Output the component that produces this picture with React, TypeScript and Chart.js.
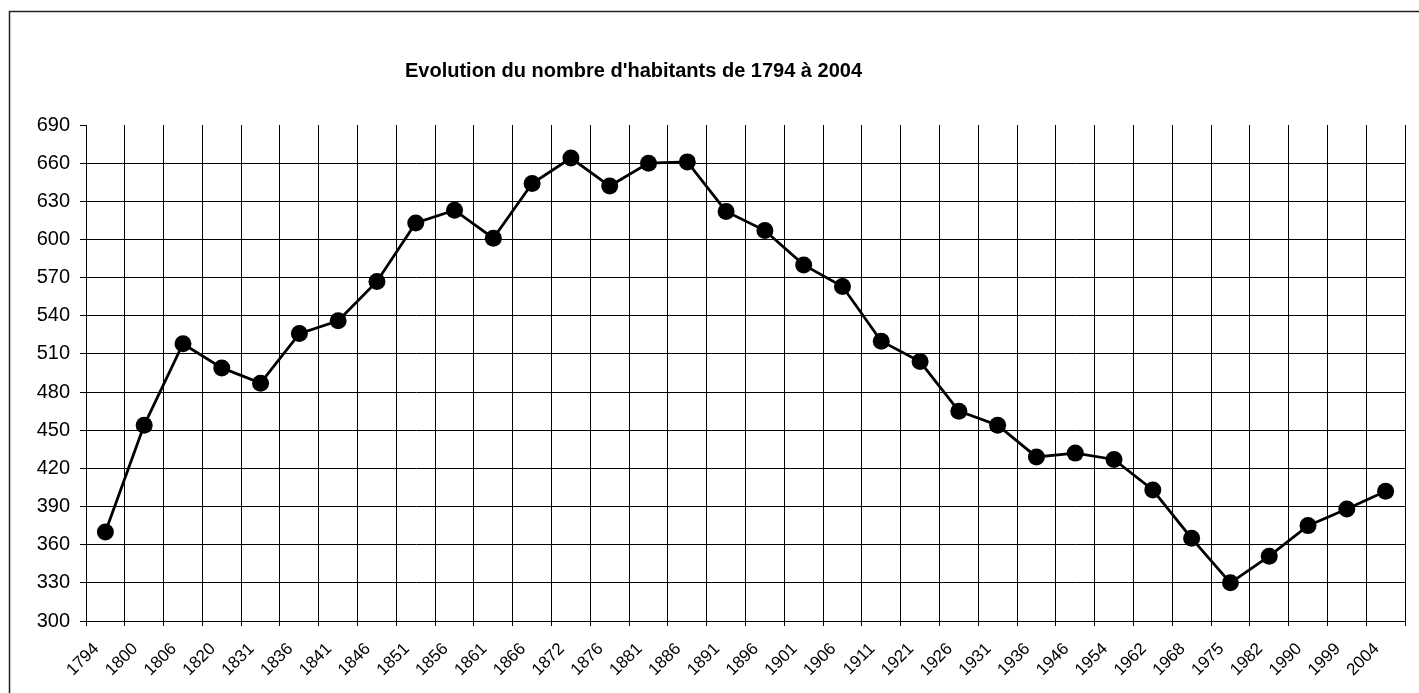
import React, { useEffect, useRef } from "react";
import { Chart, registerables } from "chart.js";

Chart.register(...registerables);

const years: string[] = [
  "1794", "1800", "1806", "1820", "1831", "1836", "1841", "1846", "1851", "1856",
  "1861", "1866", "1872", "1876", "1881", "1886", "1891", "1896", "1901", "1906",
  "1911", "1921", "1926", "1931", "1936", "1946", "1954", "1962", "1968", "1975",
  "1982", "1990", "1999", "2004",
];

const habitants: number[] = [
  370, 454, 518, 499, 487, 526, 536, 567, 613, 623,
  601, 644, 664, 642, 660, 661, 622, 607, 580, 563,
  520, 504, 465, 454, 429, 432, 427, 403, 365, 330,
  351, 375, 388, 402,
];

const titleText = "Evolution du nombre d'habitants de 1794 à 2004";
const yMin = 300;
const yMax = 690;
const yStep = 30;

const FONT = "'Liberation Sans', Arial, Helvetica, sans-serif";

export default function App() {
  const ref = useRef<HTMLCanvasElement | null>(null);

  useEffect(() => {
    const canvas = ref.current;
    if (!canvas) return;

    const frame = {
      id: "frame",
      beforeDraw(chart: any) {
        const ctx = chart.ctx;
        ctx.save();
        ctx.fillStyle = "#ffffff";
        ctx.fillRect(0, 0, chart.width, chart.height);
        ctx.strokeStyle = "#222";
        ctx.lineWidth = 1.5;
        ctx.beginPath();
        ctx.moveTo(9.5, chart.height);
        ctx.lineTo(9.5, 11.5);
        ctx.lineTo(chart.width, 11.5);
        ctx.stroke();
        ctx.restore();
      },
      afterLayout(chart: any) {
        const t = chart.titleBlock;
        if (t) {
          t.left = 0;
          t.right = 1267;
          t.width = 1267;
        }
      },
    };

    const chart = new Chart(canvas, {
      type: "line",
      data: {
        labels: years,
        datasets: [
          {
            label: "Habitants",
            data: habitants,
            borderColor: "#000",
            borderWidth: 2.8,
            backgroundColor: "#000",
            pointBackgroundColor: "#000",
            pointBorderColor: "#000",
            pointBorderWidth: 0,
            pointRadius: 8.5,
            tension: 0,
            fill: false,
          },
        ],
      },
      options: {
        responsive: false,
        animation: false,
        layout: { padding: { left: 0, right: 14, top: 0, bottom: 0 } },
        plugins: {
          legend: { display: false },
          tooltip: { enabled: false },
          title: {
            display: true,
            text: titleText,
            color: "#000",
            font: { family: FONT, size: 20, weight: "bold" },
            padding: { top: 59, bottom: 42 },
          },
        },
        scales: {
          x: {
            type: "category",
            offset: true,
            grid: {
              display: true,
              offset: true,
              color: (c: any) => (c.index === years.length ? "rgba(0,0,0,0)" : "#000"),
              tickColor: "#000",
              lineWidth: 1,
              drawTicks: true,
              tickLength: 5,
            },
            border: { display: true, color: "#000", width: 1 },
            ticks: {
              autoSkip: false,
              minRotation: 45,
              maxRotation: 45,
              color: "#000",
              font: { family: FONT, size: 17 },
              padding: 13,
              labelOffset: -9,
            },
            afterFit: (s: any) => {
              s.height = 72;
            },
          },
          y: {
            min: yMin,
            max: yMax,
            grid: {
              color: (c: any) => (c.tick && c.tick.value === yMax ? "rgba(0,0,0,0)" : "#000"),
              tickColor: "#000",
              lineWidth: 1,
              tickLength: 6,
            },
            border: { display: true, color: "#000", width: 1 },
            ticks: {
              stepSize: yStep,
              color: "#000",
              font: { family: FONT, size: 20 },
              padding: 10,
            },
            afterFit: (s: any) => {
              s.width = 86;
            },
          },
        },
      },
      plugins: [frame],
    });

    return () => {
      chart.destroy();
    };
  }, []);

  return (
    <div style={{ position: "fixed", left: 0, top: 0, width: 1419, height: 693, background: "#fff" }}>
      <canvas ref={ref} width={1419} height={693} style={{ display: "block" }} />
    </div>
  );
}
